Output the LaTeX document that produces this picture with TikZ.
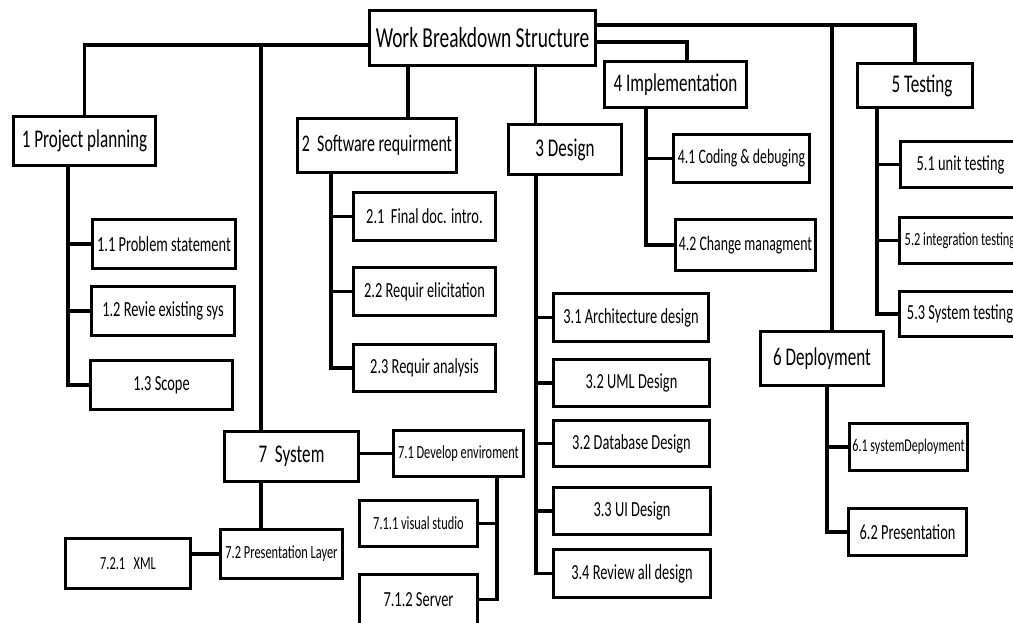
\documentclass[tikz,border=0pt]{standalone}
\usepackage{fontspec}
\setmainfont[FakeStretch=0.67]{Carlito}

\begin{document}
\begin{tikzpicture}[x=1pt,y=-1pt,line width=3.5pt,
  box/.style={draw,rectangle,inner sep=0pt},
  sz/.style 2 args={minimum width=#1pt,minimum height=#2pt},
  fs/.style={font=\fontsize{#1}{#1}\selectfont},
  ftop/.style={fs=29},
  fone/.style={fs=25.5},
  ftwo/.style={fs=21.5},
  fsml/.style={fs=18.5}]
\clip (0,0) rectangle (1013,622);

\node[box,ftop,sz={226}{55}] (wbs) at (482.5,38) {Work Breakdown Structure};   %root

% first level
\node[box,fone,sz={142}{49}] (p1) at (84.5,141) {1 Project planning};
\node[box,fs=23.8,sz={159}{54}] (p2) at (377,145.5) {2~ Software requirment};
\node[box,fone,sz={113}{50}] (p3) at (565,149.5) {3 Design\hspace{11pt}};
\node[box,fone,sz={142}{46}] (p4) at (675.5,84.5) {4 Implementation};
\node[box,fone,sz={115}{44}] (p5) at (915,85.5) {\hspace{14pt}5 Testing};
\node[box,fone,sz={123}{54}] (p6) at (822,358.5) {6 Deployment};
\node[box,fone,sz={134}{50}] (p7) at (291.5,456.5) {7~ System};

% second level
\node[box,ftwo,sz={143}{49}] (s11) at (164,244) {1.1 Problem statement};
\node[box,ftwo,sz={143}{49}] (s12) at (163,311) {1.2 Revie existing sys};
\node[box,ftwo,sz={142}{49}] (s13) at (161.5,385) {1.3 Scope};

\node[box,ftwo,sz={142}{48}] (s21) at (424.5,216.5) {2.1~ Final doc. intro.};
\node[box,ftwo,sz={142}{48}] (s22) at (424.5,291.5) {2.2 Requir elicitation};
\node[box,ftwo,sz={142}{47}] (s23) at (424.5,368) {2.3 Requir analysis\hspace{20pt}};

\node[box,ftwo,sz={155}{48}] (s31) at (631,317.5) {3.1 Architecture design};
\node[box,ftwo,sz={156}{47}] (s32u) at (631.5,383) {3.2 UML Design\hspace{26pt}};
\node[box,ftwo,sz={156}{46}] (s32d) at (631.5,443.5) {3.2 Database Design};
\node[box,ftwo,sz={157}{47}] (s33) at (632,511) {3.3 UI Design\hspace{46pt}};
\node[box,ftwo,sz={157}{48}] (s34) at (632,573.5) {3.4 Review all design};

\node[box,fs=20.6,sz={136}{48}] (s41) at (741.5,158.5) {4.1 Coding \& debuging};
\node[box,fs=20.6,sz={140}{51}] (s42) at (745.5,245) {4.2 Change managment};

\node[box,ftwo,sz={120}{46}] (s51) at (960.5,164.5) {5.1 unit testing};
\node[box,fsml,sz={121}{46}] (s52) at (960,240.5) {5.2 integration testing};
\node[box,ftwo,sz={121}{45}] (s53) at (960,314) {5.3 System testing};

\node[box,fs=18,sz={118}{47}] (s61) at (908.5,447) {6.1 systemDeployment};
\node[box,ftwo,sz={118}{47}] (s62) at (907.5,532) {6.2 Presentation};

\node[box,fsml,sz={130}{46}] (s71) at (458.5,453.5) {7.1 Develop enviroment};
\node[box,fsml,sz={118}{46}] (s711) at (418.5,523.5) {7.1.1 visual studio\hspace{16pt}};
\node[box,ftwo,sz={118}{50}] (s712) at (418.5,599.5) {7.1.2 Server\hspace{17pt}};
\node[box,fsml,sz={122}{49}] (s72) at (281.5,554) {7.2 Presentation Layer};
\node[box,fsml,sz={125}{50}] (s721) at (128,563.5) {7.2.1~~ XML\hspace{17pt}};

% root to first level
\coordinate (j7) at (261,45);
\coordinate (j6) at (832,25);
\draw ([yshift=-7pt]wbs.west) -| (p1.north);
\draw (j7) -- (j7 |- p7.north);
\draw ([xshift=-74.5pt]wbs.south) -- ([xshift=-74.5pt]wbs.south |- p2.north);
\draw ([xshift=53pt]wbs.south) -- ([xshift=53pt]wbs.south |- p3.north);
\draw ([yshift=-4pt]wbs.east) -| ([xshift=11.5pt]p4.north);
\draw ([yshift=13pt]wbs.east) -| (p5.north);
\draw (j6) -- (j6 |- p6.north);

% first level to second level
\draw ([xshift=-16.5pt]p1.south) |- (s13.west);
\foreach \n in {s11,s12}
  \draw ([xshift=-16.5pt]p1.south |- \n.west) -- (\n.west);

\draw ([xshift=-46pt]p2.south) |- (s23.west);
\foreach \n in {s21,s22}
  \draw ([xshift=-46pt]p2.south |- \n.west) -- (\n.west);

\draw ([xshift=-29pt]p3.south) |- (s34.west);
\foreach \n in {s31,s32u,s32d,s33}
  \draw ([xshift=-29pt]p3.south |- \n.west) -- (\n.west);

\draw ([xshift=-29.5pt]p4.south) |- (s42.west);
\draw ([xshift=-29.5pt]p4.south |- s41.west) -- (s41.west);

\draw ([xshift=-38pt]p5.south) |- (s53.west);
\foreach \n in {s51,s52}
  \draw ([xshift=-38pt]p5.south |- \n.west) -- (\n.west);

\draw ([xshift=5pt]p6.south) |- (s62.west);
\draw ([xshift=5pt]p6.south |- s61.west) -- (s61.west);

% system branch
\draw (s71.west -| p7.east) -- (s71.west);
\draw (j7 |- p7.south) -- (j7 |- s72.north);
\draw (s72.west) -- (s72.west -| s721.east);
\draw ([xshift=38.5pt]s71.south) |- (s712.east);
\draw ([xshift=38.5pt]s71.south |- s711.east) -- (s711.east);
\end{tikzpicture}
\end{document}
